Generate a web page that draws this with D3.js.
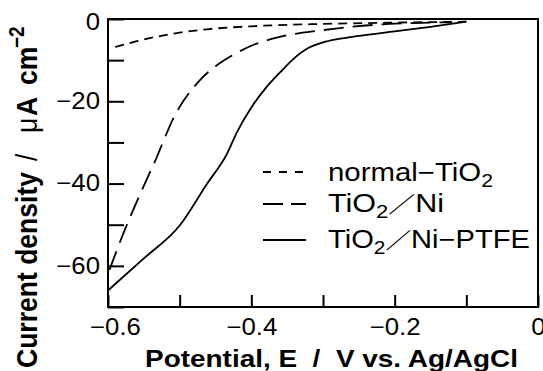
<!DOCTYPE html>
<html>
<head>
<meta charset="utf-8">
<script src="https://cdn.jsdelivr.net/npm/d3@7"></script>
<style>
  html, body { margin: 0; padding: 0; background: #fff; }
  svg { display: block; font-family: "Liberation Sans", Arial, Helvetica, sans-serif; }
  .axis line { stroke: #000; stroke-width: 2; }
  .axis path { display: none; }
  .axis text { fill: #000; font-size: 23px; font-family: "Liberation Sans", Arial, sans-serif; }
</style>
</head>
<body>
<div class="chart"></div>
<script>
// DATA ******************************************************************
// potential (V vs. Ag/AgCl) and current density (uA cm-2)
var normalV = [-0.59, -0.56, -0.532, -0.5, -0.462, -0.392, -0.3, -0.207, -0.1];
var normalI = [-6.8, -5.4, -4.3, -3.3, -2.5, -1.7, -1.2, -0.9, -0.66];

var niV = [-0.598, -0.579, -0.555, -0.532, -0.509, -0.472, -0.45, -0.43, -0.4, -0.369, -0.3, -0.207, -0.12];
var niI = [-61, -52.3, -42.5, -33.6, -24.2, -14.9, -11.5, -9.2, -6.5, -4.7, -2.7, -1.2, -0.8];

var ptfeV = [-0.6, -0.55, -0.5, -0.462, -0.434, -0.42, -0.4, -0.38, -0.36, -0.34, -0.32, -0.3, -0.28, -0.25, -0.2, -0.15, -0.1];
var ptfeI = [-66, -58.2, -50.2, -40.1, -32.8, -27.5, -21.5, -16.8, -13, -9.5, -7.0, -5.7, -4.9, -4.1, -3.0, -1.9, -0.66];

var seriesNames = ['normal', 'ni', 'ptfe'];
var seriesDash = ['9,6', '20,9', null];

var xTickValues = [-0.6, -0.5, -0.4, -0.3, -0.2, -0.1, 0];
var xTickLabels = ['\u22120.6', '', '\u22120.4', '', '\u22120.2', '', '0'];
var yTickValues = [-70, -60, -50, -40, -30, -20, -10, 0];
var yTickLabels = ['', '\u221260', '', '\u221240', '', '\u221220', '', '0'];

// SETUP *****************************************************************
var W = 543, H = 371;
var margin = {top: 19, right: 5, bottom: 64, left: 108};
var width = W - margin.left - margin.right,
    height = H - margin.top - margin.bottom;
var STRETCH = 1.12;   // lettering in the figure is a bit wider than Liberation Sans

var svg = d3.select('.chart').append('svg')
    .attr('width', W)
    .attr('height', H);
var g = svg.append('g')
    .attr('transform', 'translate(' + margin.left + ',' + margin.top + ')');

var xScale = d3.scaleLinear().domain([-0.6, 0]).range([0, width]);
var yScale = d3.scaleLinear().domain([-70, 0]).range([height, 0]);

// AXES (ticks point inward) **********************************************
var xAxis = d3.axisBottom(xScale)
    .tickValues(xTickValues)
    .tickSize(-12)
    .tickPadding(12)
    .tickFormat(function(d, i) { return xTickLabels[i]; });
var yAxis = d3.axisLeft(yScale)
    .tickValues(yTickValues)
    .tickSize(-16)
    .tickPadding(8)
    .tickFormat(function(d, i) { return yTickLabels[i]; });

var xAxisG = g.append('g').attr('class', 'axis')
    .attr('transform', 'translate(0,' + height + ')')
    .call(xAxis);
var yAxisG = g.append('g').attr('class', 'axis').call(yAxis);

g.selectAll('.axis text').each(function() {
    var len = this.getComputedTextLength();
    if (len > 0) d3.select(this).attr('textLength', len * STRETCH).attr('lengthAdjust', 'spacingAndGlyphs');
});
// nudges seen in the figure: first x label shifted right, top y label pushed down
xAxisG.selectAll('.tick text').filter(function(d, i) { return i === 0; }).attr('x', 7);
yAxisG.selectAll('.tick text').filter(function(d, i) { return i === 7; }).attr('y', 3);

// FRAME
g.append('rect')
    .attr('width', width).attr('height', height)
    .attr('fill', 'none').attr('stroke', '#000').attr('stroke-width', 2);

// CURVES ****************************************************************
var line = d3.line()
    .curve(d3.curveMonotoneX)
    .x(function(d) { return xScale(d[0]); })
    .y(function(d) { return yScale(d[1]); });

var allData = [d3.zip(normalV, normalI), d3.zip(niV, niI), d3.zip(ptfeV, ptfeI)];

g.selectAll('path.curve')
    .data(allData)
    .enter()
    .append('path')
    .attr('class', function(d, i) { return 'curve curve--' + seriesNames[i]; })
    .attr('d', line)
    .attr('fill', 'none')
    .attr('stroke', '#000')
    .attr('stroke-width', 1.8)
    .attr('stroke-dasharray', function(d, i) { return seriesDash[i]; });

// LEGEND ****************************************************************
// part kinds: 0 plain, 1 subscript, 2 full-width slash, 3 back to baseline
var legendRows = [
    {y: 172, ty: 181, len: 165, dash: '8,8', parts: [['normal\u2212TiO', 0], ['2', 1]]},
    {y: 204, ty: 212, len: 116, dash: '20,8', parts: [['TiO', 0], ['2', 1], ['\uFF0F', 2], ['Ni', 3]]},
    {y: 240, ty: 248, len: 202, dash: null, parts: [['TiO', 0], ['2', 1], ['\uFF0F', 2], ['Ni\u2212PTFE', 3]]}
];
var legend = svg.append('g').attr('class', 'legend');
legendRows.forEach(function(r) {
    legend.append('line')
        .attr('x1', 263).attr('x2', 306)
        .attr('y1', r.y).attr('y2', r.y)
        .attr('stroke', '#000').attr('stroke-width', 1.8)
        .attr('stroke-dasharray', r.dash);
    var t = legend.append('text')
        .attr('x', 328).attr('y', r.ty)
        .attr('font-size', 25)
        .attr('textLength', r.len).attr('lengthAdjust', 'spacingAndGlyphs');
    r.parts.forEach(function(p) {
        var ts = t.append('tspan').text(p[0]);
        if (p[1] === 1) ts.attr('font-size', 18).attr('dy', 6);
        if (p[1] === 2) ts.attr('dy', -6).attr('font-size', 22)
            .style('font-family', '"Noto Sans CJK JP", sans-serif');
    });
});

// AXIS TITLES ***********************************************************
svg.append('text')
    .attr('x', 145).attr('y', 367)
    .attr('font-size', 24).attr('font-weight', 'bold')
    .style('white-space', 'pre')
    .attr('textLength', 373).attr('lengthAdjust', 'spacingAndGlyphs')
    .text('Potential, E  /  V vs. Ag/AgCl');

// y title: pieces placed along the rotated baseline
var yTitleParts = [
    {t: 'Current density', at: 0, len: 196, bold: true, size: 26.5, dy: 0},
    {t: '/', at: 207, len: 0, bold: false, size: 26.5, dy: 0},
    {t: '\u03BC', at: 235, len: 0, bold: false, size: 26.5, dy: 0},
    {t: 'A', at: 252, len: 0, bold: true, size: 26.5, dy: 0},
    {t: 'cm', at: 283, len: 0, bold: true, size: 26.5, dy: 0},
    {t: '\u22122', at: 320, len: 0, bold: true, size: 19, dy: -12}
];
var yTitle = svg.append('g')
    .attr('transform', 'translate(37,368) scale(' + STRETCH + ',1) rotate(-90)');
yTitleParts.forEach(function(p) {
    var t = yTitle.append('text')
        .attr('x', p.at).attr('y', p.dy)
        .attr('font-size', p.size)
        .attr('font-weight', p.bold ? 'bold' : 'normal')
        .text(p.t);
    if (p.len) t.attr('textLength', p.len).attr('lengthAdjust', 'spacingAndGlyphs');
});
</script>
</body>
</html>
